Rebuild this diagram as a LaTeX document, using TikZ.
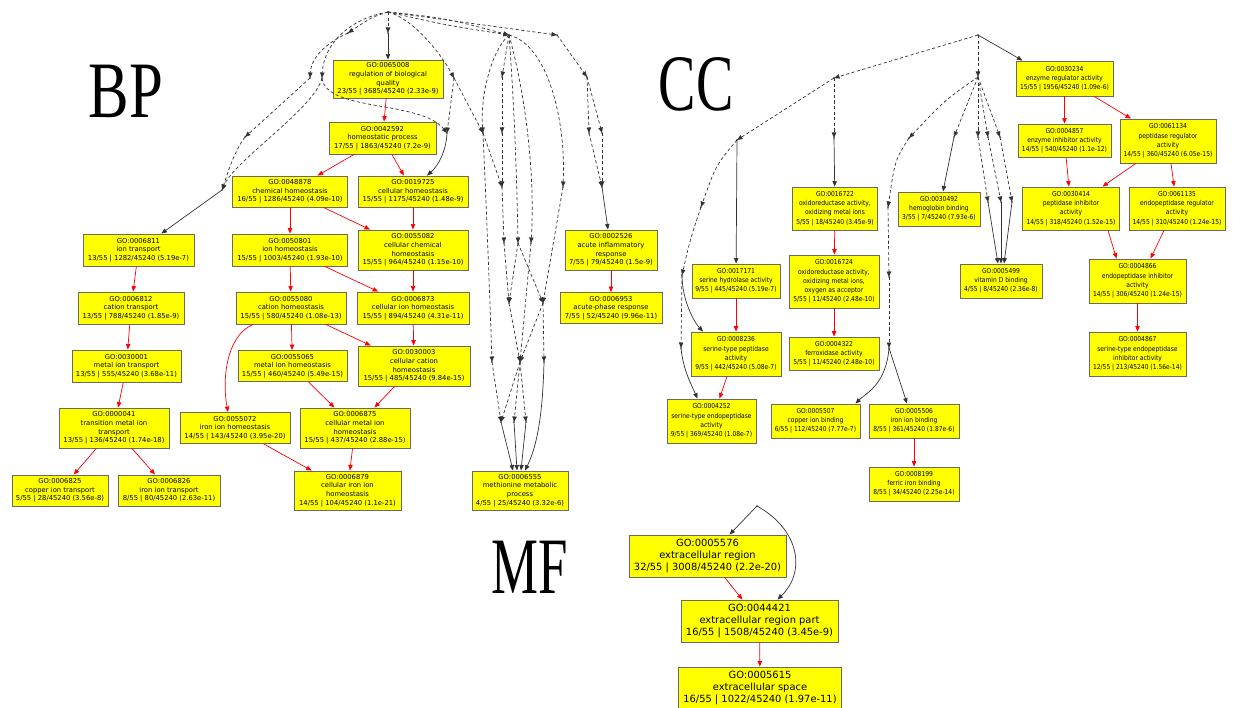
\documentclass[tikz,border=0pt]{standalone}
\usepackage{fontspec}
\usepackage{graphicx}
\usetikzlibrary{arrows.meta,calc}
\newfontfamily\dv{DejaVu Sans}
\newfontfamily\dvc[FakeStretch=0.88]{DejaVu Sans}
\newfontfamily\bigser{Liberation Serif}
\definecolor{goyel}{RGB}{255,255,0}
\definecolor{gored}{RGB}{255,0,0}
\definecolor{goedge}{RGB}{50,50,50}
\definecolor{goframe}{RGB}{105,105,105}
\tikzset{
 gobox/.style={draw=goframe, fill=goyel, line width=0.9pt, inner sep=0pt, align=center},
 bpbox/.style={gobox, font=\dv\fontsize{6.8}{8.7}\selectfont},
 ccbox/.style={gobox, font=\dvc\fontsize{6.8}{9.2}\selectfont},
 mfbox/.style={gobox, font=\dv\fontsize{9.9}{12}\selectfont},
 arrowtip/.style={-{Triangle[length=5.5pt,width=4.4pt]}},
 rededge/.style={draw=gored, line width=0.7pt, arrowtip},
 blk/.style={draw=goedge, line width=0.7pt, arrowtip},
 dsh/.style={blk, dash pattern=on 3.2pt off 2.4pt},
 biglabel/.style={inner sep=0pt, font=\bigser\fontsize{80}{80}\selectfont},
}
\newcommand\GB[7]{\node[#1, minimum width=#5pt, minimum height=#6pt] (#2) at (#3,#4) {#7};}
\begin{document}
\begin{tikzpicture}[x=1pt,y=-1pt]
\useasboundingbox (0,0) rectangle (1233,708);
% ---------- big labels
\node[biglabel] (lbp) at (126,91) {\scalebox{0.76}[1]{BP}};
\node[biglabel] (lcc) at (696,84) {\scalebox{0.7}[1]{CC}};
\node[biglabel] (lmf) at (530,567) {\scalebox{0.66}[1]{MF}};
% ---------- BP nodes
\GB{bpbox}{n65008}{388}{79}{110}{38}{GO:0065008\\regulation of biological\\quality\\23/55 | 3685/45240 (2.33e-9)}
\GB{bpbox}{n42592}{382.5}{138}{107}{32}{GO:0042592\\homeostatic process\\17/55 | 1863/45240 (7.2e-9)}
\GB{bpbox}{n48878}{290}{191.5}{115}{31}{GO:0048878\\chemical homeostasis\\16/55 | 1286/45240 (4.09e-10)}
\GB{bpbox}{n19725}{413}{191.5}{110}{31}{GO:0019725\\cellular homeostasis\\15/55 | 1175/45240 (1.48e-9)}
\GB{bpbox}{n6811}{138.5}{250}{111}{32}{GO:0006811\\ion transport\\13/55 | 1282/45240 (5.19e-7)}
\GB{bpbox}{n50801}{290}{250}{115}{32}{GO:0050801\\ion homeostasis\\15/55 | 1003/45240 (1.93e-10)}
\GB{bpbox}{n55082}{413}{250}{110}{40}{GO:0055082\\cellular chemical\\homeostasis\\15/55 | 964/45240 (1.15e-10)}
\GB{bpbox}{n6812}{131}{308}{106}{32}{GO:0006812\\cation transport\\13/55 | 788/45240 (1.85e-9)}
\GB{bpbox}{n55080}{291}{308}{110}{32}{GO:0055080\\cation homeostasis\\15/55 | 580/45240 (1.08e-13)}
\GB{bpbox}{n6873}{413}{308}{112}{32}{GO:0006873\\cellular ion homeostasis\\15/55 | 894/45240 (4.31e-11)}
\GB{bpbox}{n30001}{126.5}{366}{109}{32}{GO:0030001\\metal ion transport\\13/55 | 555/45240 (3.68e-11)}
\GB{bpbox}{n55065}{292.5}{366}{109}{31}{GO:0055065\\metal ion homeostasis\\15/55 | 460/45240 (5.49e-15)}
\GB{bpbox}{n30003}{414}{366}{112}{40}{GO:0030003\\cellular cation\\homeostasis\\15/55 | 485/45240 (9.84e-15)}
\GB{bpbox}{n41}{114}{428}{110}{40}{GO:0000041\\transition metal ion\\transport\\13/55 | 136/45240 (1.74e-18)}
\GB{bpbox}{n55072}{235}{428}{110}{31}{GO:0055072\\iron ion homeostasis\\14/55 | 143/45240 (3.95e-20)}
\GB{bpbox}{n6875}{355}{428}{110}{40}{GO:0006875\\cellular metal ion\\homeostasis\\15/55 | 437/45240 (2.88e-15)}
\GB{bpbox}{n6825}{60}{490.5}{96}{31}{GO:0006825\\copper ion transport\\5/55 | 28/45240 (3.56e-8)}
\GB{bpbox}{n6826}{169}{490.5}{102}{31}{GO:0006826\\iron ion transport\\8/55 | 80/45240 (2.63e-11)}
\GB{bpbox}{n6879}{347.5}{490.5}{107}{39}{GO:0006879\\cellular iron ion\\homeostasis\\14/55 | 104/45240 (1.1e-21)}
\GB{bpbox}{n2526}{611}{250}{92}{40}{GO:0002526\\acute inflammatory\\response\\7/55 | 79/45240 (1.5e-9)}
\GB{bpbox}{n6953}{611}{308}{102}{31}{GO:0006953\\acute-phase response\\7/55 | 52/45240 (9.96e-11)}
\GB{bpbox}{n6555}{520}{490.5}{96}{39}{GO:0006555\\methionine metabolic\\process\\4/55 | 25/45240 (3.32e-6)}
% ---------- CC nodes
\GB{ccbox}{n30234}{1064.5}{78.5}{97}{35}{GO:0030234\\enzyme regulator activity\\15/55 | 1956/45240 (1.09e-6)}
\GB{ccbox}{n4857}{1064.5}{140.5}{93}{33}{GO:0004857\\enzyme inhibitor activity\\14/55 | 540/45240 (1.1e-12)}
\GB{ccbox}{n61134}{1168}{141}{96}{44}{GO:0061134\\peptidase regulator\\activity\\14/55 | 360/45240 (6.05e-15)}
\GB{ccbox}{n30414}{1071}{208.5}{97}{43}{GO:0030414\\peptidase inhibitor\\activity\\14/55 | 318/45240 (1.52e-15)}
\GB{ccbox}{n61135}{1177}{208.5}{96}{43}{GO:0061135\\endopeptidase regulator\\activity\\14/55 | 310/45240 (1.24e-15)}
\GB{ccbox}{n4866}{1137.5}{281}{97}{44}{GO:0004866\\endopeptidase inhibitor\\activity\\14/55 | 306/45240 (1.24e-15)}
\GB{ccbox}{n4867}{1137.5}{354}{97}{44}{GO:0004867\\serine-type endopeptidase\\inhibitor activity\\12/55 | 213/45240 (1.56e-14)}
\GB{ccbox}{n16722}{835}{208.5}{85}{43}{GO:0016722\\oxidoreductase activity,\\oxidizing metal ions\\5/55 | 18/45240 (3.45e-9)}
\GB{ccbox}{n30492}{939}{209}{82}{34}{GO:0030492\\hemoglobin binding\\3/55 | 7/45240 (7.93e-6)}
\GB{ccbox}{n5499}{1001}{281}{82}{34}{GO:0005499\\vitamin D binding\\4/55 | 8/45240 (2.36e-8)}
\GB{ccbox}{n17171}{736}{281}{88}{34}{GO:0017171\\serine hydrolase activity\\9/55 | 445/45240 (5.19e-7)}
\GB{ccbox}{n16724}{834}{281.5}{90}{53}{GO:0016724\\oxidoreductase activity,\\oxidizing metal ions,\\oxygen as acceptor\\5/55 | 11/45240 (2.48e-10)}
\GB{ccbox}{n8236}{736}{354}{90}{44}{GO:0008236\\serine-type peptidase\\activity\\9/55 | 442/45240 (5.08e-7)}
\GB{ccbox}{n4322}{834}{353.5}{90}{33}{GO:0004322\\ferroxidase activity\\5/55 | 11/45240 (2.48e-10)}
\GB{ccbox}{n4252}{711.5}{421}{89}{44}{GO:0004252\\serine-type endopeptidase\\activity\\9/55 | 369/45240 (1.08e-7)}
\GB{ccbox}{n5507}{815.5}{421}{89}{34}{GO:0005507\\copper ion binding\\6/55 | 112/45240 (7.77e-7)}
\GB{ccbox}{n5506}{914}{421}{90}{34}{GO:0005506\\iron ion binding\\8/55 | 361/45240 (1.87e-6)}
\GB{ccbox}{n8199}{914}{484}{90}{34}{GO:0008199\\ferric iron binding\\8/55 | 34/45240 (2.25e-14)}
% ---------- MF nodes
\GB{mfbox}{n5576}{707.5}{556}{157}{42}{GO:0005576\\extracellular region\\32/55 | 3008/45240 (2.2e-20)}
\GB{mfbox}{n44421}{759.5}{621}{157}{42}{GO:0044421\\extracellular region part\\16/55 | 1508/45240 (3.45e-9)}
\GB{mfbox}{n5615}{760}{687.5}{163}{41}{GO:0005615\\extracellular space\\16/55 | 1022/45240 (1.97e-11)}
% ---------- virtual points
\coordinate (R1) at (388,12);
\coordinate (a0) at (388,33);
\coordinate (a1) at (348,33);
\coordinate (a2) at (310,78);
\coordinate (a3) at (322,78);
\coordinate (a4) at (245,137);
\coordinate (a5) at (222,190);
\coordinate (a6) at (447,133);
\coordinate (b1) at (454,78);
\coordinate (H2) at (509,35);
\coordinate (H3) at (557,35);
\coordinate (c1) at (587,77);
\coordinate (c2) at (589,133);
\coordinate (c3) at (602,133);
\coordinate (c4) at (602,187);
\coordinate (d1) at (483,133);
\coordinate (d2) at (502,77);
\coordinate (d3) at (502,133);
\coordinate (e1) at (502,187);
\coordinate (e2) at (563,187);
\coordinate (g1) at (504,243);
\coordinate (g2) at (518,243);
\coordinate (g3) at (531,243);
\coordinate (h1) at (509,303);
\coordinate (h2) at (543,303);
\coordinate (i1) at (492,362);
\coordinate (i2) at (520,362);
\coordinate (i3) at (544,362);
\coordinate (j1) at (501,422);
\coordinate (j2) at (514,422);
\coordinate (j3) at (526,422);
\coordinate (R2) at (978,35);
\coordinate (k1) at (978,77);
\coordinate (k2) at (909,138);
\coordinate (k3) at (954,137);
\coordinate (k4) at (978,137);
\coordinate (k5) at (988,137);
\coordinate (k6) at (1000,137);
\coordinate (k7) at (988,202);
\coordinate (k8) at (1001,202);
\coordinate (k9) at (1012,202);
\coordinate (m1) at (834,78);
\coordinate (m2) at (834,138);
\coordinate (m3) at (737,140);
\coordinate (m4) at (701,207);
\coordinate (m5) at (682,275);
\coordinate (m6) at (681,348);
\coordinate (q1) at (888,207);
\coordinate (q2) at (889,277);
\coordinate (q3) at (889,348);
\coordinate (R3) at (757,506);
\foreach \p in {R1,a0,a1,a2,a3,a4,a5,a6,b1,H2,H3,c1,c2,c3,c4,d1,d2,d3,e1,e2,g1,g2,g3,h1,h2,i1,i2,i3,j1,j2,j3,R2,k1,k2,k3,k4,k5,k6,k7,k8,k9,m1,m2,m3,m4,m5,m6,q1,q2,q3,R3}
  \fill[goedge] (\p) circle (0.9pt);
% ---------- BP black / dashed edges
\draw[dsh] (R1) -- (a0);
\draw[blk] (a0) -- (n65008);
\draw[dsh] (R1) .. controls (372,17) .. (a1);
\draw[dsh] (R1) .. controls (352,18) and (324,42) .. (a3);
\draw[dsh] (a1) .. controls (322,45) and (311,60) .. (a2);
\draw[dsh] (a2) -- (a4);
\draw[dsh] (a4) .. controls (234,152) and (228,172) .. (a5);
\draw[dsh] (a3) .. controls (315,108) and (235,160) .. (a5);
\draw[blk] (a5) -- (n6811);
\draw[dsh] (a3) .. controls (326,112) and (420,100) .. (a6);
\draw[blk] (a6) .. controls (446,152) and (438,166) .. ([xshift=14pt]n19725.north);
\draw[dsh] (R1) .. controls (412,18) and (440,52) .. (b1);
\draw[dsh] (b1) -- (a6);
\draw[dsh] (b1) -- (d1);
\draw[dsh] (R1) .. controls (445,18) .. (H2);
\draw[dsh] (R1) .. controls (445,25) .. (H2);
\draw[dsh] (R1) -- (H3);
\draw[dsh] (H3) -- (c1);
\draw[dsh] (c1) -- (c2);
\draw[dsh] (c1) -- (c3);
\draw[dsh] (c2) -- (c4);
\draw[dsh] (c3) -- (c4);
\draw[blk] (c4) -- ([xshift=-3pt]n2526.north);
\draw[dsh] (H2) .. controls (490,52) and (480,100) .. (d1);
\draw[dsh] (H2) -- (d2);
\draw[dsh] (d2) -- (d3);
\draw[dsh] (d3) -- (e1);
\draw[dsh] (d1) -- (e1);
\draw[dsh] (H2) .. controls (548,45) and (566,120) .. (e2);
\draw[dsh] (H2) .. controls (514,100) and (517,180) .. (g2);
\draw[dsh] (H2) .. controls (527,100) and (535,180) .. (g3);
\draw[dsh] (e1) -- (g1);
\draw[dsh] (g1) -- (h1);
\draw[dsh] (g2) -- (h1);
\draw[dsh] (g2) -- (h2);
\draw[dsh] (e2) -- (h2);
\draw[dsh] (d1) .. controls (486,200) and (490,300) .. (i1);
\draw[dsh] (h1) -- (i2);
\draw[dsh] (h2) -- (i2);
\draw[dsh] (h2) -- (i3);
\draw[dsh] (g3) -- (i2);
\draw[dsh] (i1) -- (j1);
\draw[dsh] (i2) -- (j1);
\draw[dsh] (i2) -- (j2);
\draw[dsh] (i2) -- (j3);
\draw[blk] (j1) -- ([xshift=-7pt]n6555.north);
\draw[blk] (j2) -- ([xshift=-3pt]n6555.north);
\draw[blk] (j3) -- ([xshift=1pt]n6555.north);
\draw[blk] (i3) .. controls (543,400) and (540,440) .. ([xshift=5pt]n6555.north);
% ---------- BP red edges
\draw[rededge] (n65008) -- (n42592);
\draw[rededge] (n42592) -- (n48878);
\draw[rededge] (n42592) -- (n19725);
\draw[rededge] (n48878) -- (n50801);
\draw[rededge] (n48878) -- (n55082);
\draw[rededge] (n19725) -- (n55082);
\draw[rededge] (n6811) -- (n6812);
\draw[rededge] (n50801) -- (n55080);
\draw[rededge] (n50801) -- (n6873);
\draw[rededge] (n55082) -- (n6873);
\draw[rededge] (n6812) -- (n30001);
\draw[rededge] (n55080) -- (n55065);
\draw[rededge] (n55080) -- (n30003);
\draw[rededge] ([xshift=-38pt]n55080.south) .. controls (226,336) and (222,380) .. ([xshift=-7pt]n55072.north);
\draw[rededge] (n6873) -- (n30003);
\draw[rededge] (n30001) -- (n41);
\draw[rededge] (n55065) -- (n6875);
\draw[rededge] (n30003) -- (n6875);
\draw[rededge] (n41) -- (n6825);
\draw[rededge] (n41) -- (n6826);
\draw[rededge] (n55072) -- (n6879);
\draw[rededge] (n6875) -- (n6879);
\draw[rededge] (n2526) -- (n6953);
% ---------- CC edges
\draw[blk] (R2) -- ([xshift=-42pt]n30234.north);
\draw[dsh] (R2) -- (k1);
\draw[dsh] (R2) -- (m1);
\draw[dsh] (m1) -- (m2);
\draw[blk] (m2) -- (n16722);
\draw[dsh] (m1) -- (m3);
\draw[blk] (m3) -- (n17171);
\draw[dsh] (m3) .. controls (716,165) .. (m4);
\draw[dsh] (m4) .. controls (690,240) .. (m5);
\draw[blk] (m5) .. controls (682,300) and (694,322) .. ([xshift=-33pt]n8236.north);
\draw[dsh] (m5) -- (m6);
\draw[blk] (m6) .. controls (683,370) and (692,386) .. ([xshift=-14pt]n4252.north);
\draw[dsh] (k1) .. controls (945,100) .. (k2);
\draw[dsh] (k1) -- (k3);
\draw[dsh] (k1) -- (k4);
\draw[dsh] (k1) -- (k5);
\draw[dsh] (k1) -- (k6);
\draw[blk] (k3) -- ([xshift=4pt]n30492.north);
\draw[dsh] (k4) -- (k7);
\draw[dsh] (k5) -- (k8);
\draw[dsh] (k6) -- (k9);
\draw[blk] (k7) -- ([xshift=-3pt]n5499.north);
\draw[blk] (k8) -- ([xshift=0pt]n5499.north);
\draw[blk] (k9) -- ([xshift=3pt]n5499.north);
\draw[dsh] (k2) .. controls (895,160) .. (q1);
\draw[dsh] (q1) -- (q2);
\draw[dsh] (q2) -- (q3);
\draw[blk] (q3) .. controls (886,385) and (866,393) .. ([xshift=40pt]n5507.north);
\draw[blk] (q3) -- ([xshift=-7pt]n5506.north);
\draw[rededge] (n30234) -- (n4857);
\draw[rededge] (n30234) -- (n61134);
\draw[rededge] (n4857) -- (n30414);
\draw[rededge] (n61134) -- (n30414);
\draw[rededge] (n61134) -- (n61135);
\draw[rededge] ([xshift=37pt]n30414.south) -- ([xshift=-21pt]n4866.north);
\draw[rededge] ([xshift=-13pt]n61135.south) -- ([xshift=13pt]n4866.north);
\draw[rededge] (n4866) -- (n4867);
\draw[rededge] (n16722) -- (n16724);
\draw[rededge] (n16724) -- (n4322);
\draw[rededge] (n17171) -- (n8236);
\draw[rededge] ([xshift=-9pt]n8236.south) -- ([xshift=8pt]n4252.north);
\draw[rededge] (n5506) -- (n8199);
% ---------- MF edges
\draw[blk] (R3) -- ([xshift=22pt]n5576.north);
\draw[blk] (R3) .. controls (800,530) and (806,572) .. ([xshift=18pt]n44421.north);
\draw[rededge] (n5576) -- (n44421);
\draw[rededge] (n44421) -- (n5615);
\end{tikzpicture}
\end{document}
